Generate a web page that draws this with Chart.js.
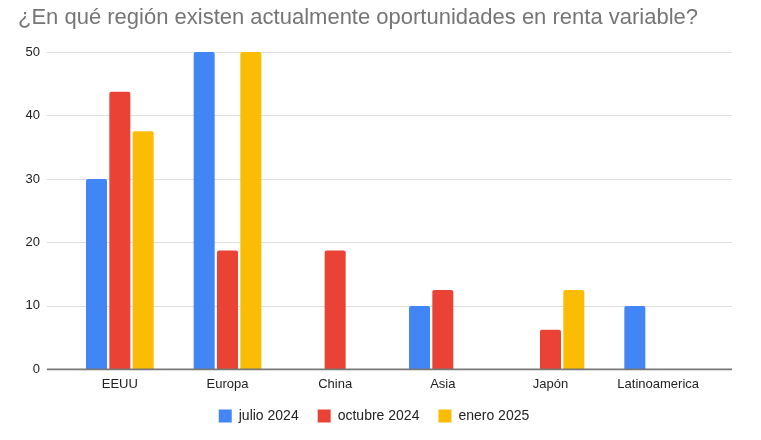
<!DOCTYPE html>
<html>
<head>
<meta charset="utf-8">
<script src="https://cdn.jsdelivr.net/npm/chart.js@4.4.1/dist/chart.umd.min.js"></script>
<style>
  html, body { margin: 0; padding: 0; background: #fff; }
  #wrap { width: 761px; height: 440px; }
</style>
</head>
<body>
<div id="wrap"><canvas id="chart"></canvas></div>
<script>
const regions = ['EEUU', 'Europa', 'China', 'Asia', 'Japón', 'Latinoamerica'];
const julio2024 = [30, 50, 0, 10, 0, 10];
const octubre2024 = [43.75, 18.75, 18.75, 12.5, 6.25, 0];
const enero2025 = [37.5, 50, 0, 0, 12.5, 0];
const yTicks = [0, 10, 20, 30, 40, 50];

const FONT = '"Liberation Sans", Arial, sans-serif';

// Sheets-like grid: lines run a bit past the category area, dark baseline on top of bars
const wideGrid = {
    id: 'wideGrid',
    afterLayout(chart) {
        // nudge the legend row into place without touching the plot area
        const lg = chart.legend;
        lg.top -= 9;
        lg.bottom -= 9;
        lg.left += 9;
        lg.right += 9;
    },
    beforeDatasetsDraw(chart) {
        const ctx = chart.ctx;
        const area = chart.chartArea;
        const y = chart.scales.y;
        ctx.save();
        yTicks.forEach(v => {
            if (v === 0) return;
            const py = Math.round(y.getPixelForValue(v)) + 0.5;
            ctx.beginPath();
            ctx.moveTo(area.left - 19, py);
            ctx.lineTo(area.right + 20, py);
            ctx.lineWidth = 1;
            ctx.strokeStyle = '#dddddd';
            ctx.stroke();
        });
        ctx.restore();
    },
    afterDatasetsDraw(chart) {
        const ctx = chart.ctx;
        const area = chart.chartArea;
        const py = chart.scales.y.getPixelForValue(0);
        ctx.save();
        ctx.beginPath();
        ctx.moveTo(area.left - 19, py);
        ctx.lineTo(area.right + 20, py);
        ctx.lineWidth = 1.6;
        ctx.strokeStyle = '#777777';
        ctx.stroke();
        ctx.restore();
    }
};

const barStyle = {
    categoryPercentage: 0.65,
    barPercentage: 0.9,
    borderRadius: { topLeft: 2, topRight: 2 },
    borderSkipped: 'bottom'
};

new Chart(document.getElementById('chart'), {
    type: 'bar',
    data: {
        labels: regions,
        datasets: [
            { label: 'julio 2024', data: julio2024, backgroundColor: '#4285F4', ...barStyle },
            { label: 'octubre 2024', data: octubre2024, backgroundColor: '#EA4335', ...barStyle },
            { label: 'enero 2025', data: enero2025, backgroundColor: '#FBBC04', ...barStyle }
        ]
    },
    options: {
        responsive: true,
        maintainAspectRatio: false,
        animation: false,
        layout: {
            padding: { left: 18, right: 49, top: 0, bottom: -2 }
        },
        scales: {
            y: {
                min: 0,
                max: 50,
                afterBuildTicks: scale => {
                    scale.ticks = yTicks.map(v => ({ value: v }));
                },
                afterFit: scale => {
                    scale.width = 48;
                },
                grid: { display: false, drawTicks: false },
                border: { display: false },
                ticks: {
                    padding: 26,
                    color: '#222222',
                    font: { family: FONT, size: 13 }
                }
            },
            x: {
                grid: { display: false, drawTicks: false },
                border: { display: false },
                ticks: {
                    padding: 7,
                    color: '#222222',
                    font: { family: FONT, size: 13 }
                }
            }
        },
        plugins: {
            title: {
                display: true,
                text: '¿En qué región existen actualmente oportunidades en renta variable?',
                align: 'start',
                color: '#757575',
                font: { family: FONT, size: 22, weight: 'normal' },
                padding: { top: 5, bottom: 20.6 }
            },
            legend: {
                position: 'bottom',
                labels: {
                    boxWidth: 13,
                    boxHeight: 13,
                    padding: 19,
                    color: '#222222',
                    font: { family: FONT, size: 14 }
                }
            },
            tooltip: { enabled: false }
        }
    },
    plugins: [wideGrid]
});
</script>
</body>
</html>
